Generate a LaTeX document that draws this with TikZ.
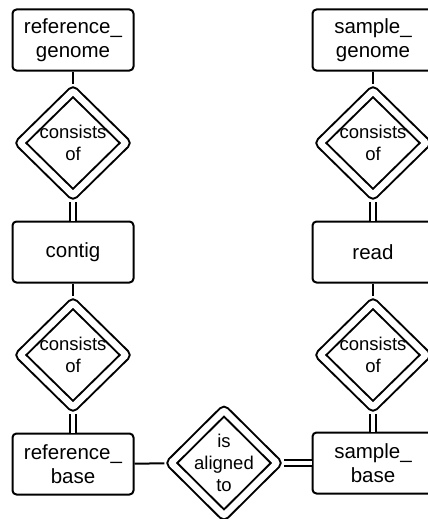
\documentclass[tikz,border=0pt]{standalone}
\usepackage{fontspec}
\setmainfont{Liberation Sans}
\usetikzlibrary{shapes.geometric}
\tikzset{
  entity/.style={draw, line width=2pt, rounded corners=4pt, minimum width=121pt,
    minimum height=61pt, inner sep=0pt, align=center,
    font=\fontsize{20.5}{24}\selectfont},
  relation/.style={draw, diamond, aspect=1, line width=2pt, double, double distance=6.5pt,
    rounded corners=2pt, minimum width=110pt, minimum height=108pt, inner sep=0pt,
    outer sep=5pt, align=center, font=\fontsize{18.5}{22}\selectfont},
  one/.style={line width=2pt},
  total/.style={line width=2pt, double, double distance=4pt},
}
\begin{document}
\begin{tikzpicture}[x=1pt, y=-1pt]
\useasboundingbox (0, 0) rectangle (428, 519);
\clip (0, 0) rectangle (428, 519);
% left column
\node[entity] (refgenome) at (73, 40) {reference\_\\genome};
\node[relation] (refconsists) at (73, 143) {consists\\of};
\node[entity] (contig) at (73, 252) {contig};
\node[relation] (contigconsists) at (73, 355) {consists\\of};
\node[entity] (refbase) at (73, 464) {reference\_\\base};
% right column
\node[entity] (samplegenome) at (373, 40) {sample\_\\genome};
\node[relation] (sampleconsists) at (373, 143) {consists\\of};
\node[entity] (read) at (373, 252) {read};
\node[relation] (readconsists) at (373, 355) {consists\\of};
\node[entity] (samplebase) at (373, 463) {sample\_\\base};
% between
\node[relation, inner sep=-2pt] (aligned) at (224, 463) {is\\aligned\\to};
\draw[one] (refgenome) -- (refconsists);
\draw[total] (refconsists) -- (contig);
\draw[one] (contig) -- (contigconsists);
\draw[total] (contigconsists) -- (refbase);
\draw[one] (samplegenome) -- (sampleconsists);
\draw[total] (sampleconsists) -- (read);
\draw[one] (read) -- (readconsists);
\draw[total] (readconsists) -- (samplebase);
\draw[one] (refbase) -- (aligned);
\draw[total] (aligned) -- (samplebase);
\end{tikzpicture}
\end{document}
